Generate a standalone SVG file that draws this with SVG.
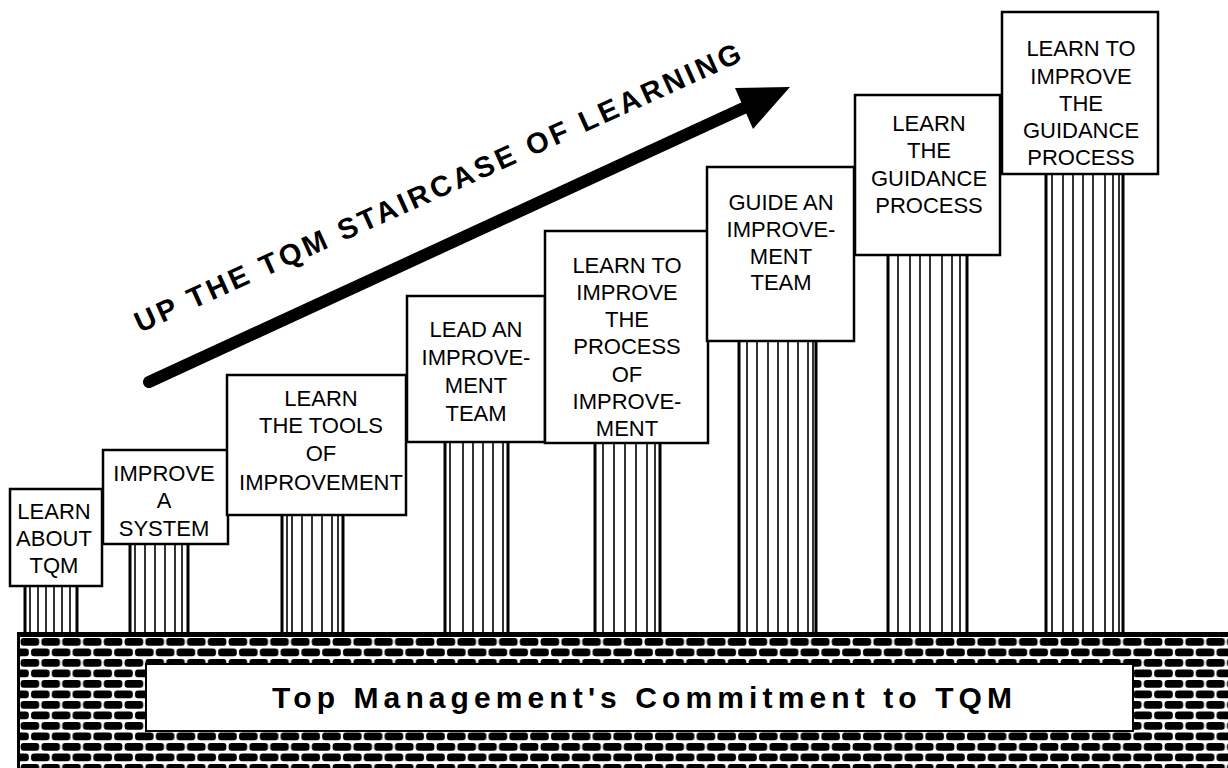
<svg xmlns="http://www.w3.org/2000/svg" width="1228" height="768" viewBox="0 0 1228 768">
  <defs>
    <style>
      .box { fill: #fff; stroke: #000; stroke-width: 2.5; }
      .lbl { font-family: "Liberation Sans", Arial, Helvetica, sans-serif; font-size: 22px; fill: #000; text-anchor: middle; }
      .col { fill: none; stroke: #000; stroke-width: 1.6; }
      .edge { fill: none; stroke: #000; stroke-width: 3; }
    </style>
    <!-- brickwork: black bricks on white mortar, alternate courses offset by half a brick -->
    <pattern id="bricks" patternUnits="userSpaceOnUse" x="20" y="638" width="20.8" height="21">
      <rect width="20.8" height="21" fill="#fff"/>
      <rect x="0.6" y="0" width="18.6" height="7.8" rx="3" fill="#000"/>
      <rect x="-9.8" y="10.5" width="18.6" height="7.8" rx="3" fill="#000"/>
      <rect x="11" y="10.5" width="18.6" height="7.8" rx="3" fill="#000"/>
    </pattern>
  </defs>

  <rect width="1228" height="768" fill="#fff"/>

  <!-- rising arrow and its caption -->
  <g id="arrow">
    <line x1="149" y1="382" x2="748" y2="106" stroke="#000" stroke-width="12" stroke-linecap="round"/>
    <polygon points="735,88 790,87 753,129" fill="#000"/>
    <text x="0" y="0" transform="translate(140,333) rotate(-24.3)" font-family="'Liberation Sans', Arial, Helvetica, sans-serif" font-size="29" font-weight="bold" textLength="662" lengthAdjust="spacing">UP THE TQM STAIRCASE OF LEARNING</text>
  </g>

  <!-- step 1 -->
  <g id="step1">
    <path class="col" d="M30 586V632M38 586V632M46 586V632M54 586V632M62 586V632M70 586V632"/>
    <path class="edge" d="M25 586V632M77 586V632"/>
    <rect class="box" x="10" y="489" width="92" height="97"/>
    <text class="lbl" x="54" y="519">LEARN</text>
    <text class="lbl" x="54" y="546">ABOUT</text>
    <text class="lbl" x="54" y="573">TQM</text>
  </g>

  <!-- step 2 -->
  <g id="step2">
    <path class="col" d="M135 544V632M145 544V632M155 544V632M165 544V632M175 544V632M182 544V632"/>
    <path class="edge" d="M130 544V632M188 544V632"/>
    <rect class="box" x="103" y="450" width="125" height="94"/>
    <text class="lbl" x="164" y="481">IMPROVE</text>
    <text class="lbl" x="164" y="508">A</text>
    <text class="lbl" x="164" y="536">SYSTEM</text>
  </g>

  <!-- step 3 -->
  <g id="step3">
    <path class="col" d="M287 515V632M292 515V632M302 515V632M312 515V632M322 515V632M332 515V632M338 515V632"/>
    <path class="edge" d="M282 515V632M343 515V632"/>
    <rect class="box" x="227" y="375" width="179" height="140"/>
    <text class="lbl" x="321" y="406">LEARN</text>
    <text class="lbl" x="321" y="433">THE TOOLS</text>
    <text class="lbl" x="321" y="461">OF</text>
    <text class="lbl" x="321" y="490">IMPROVEMENT</text>
  </g>

  <!-- step 4 -->
  <g id="step4">
    <path class="col" d="M450 442V632M463 442V632M473 442V632M483 442V632M493 442V632M503 442V632"/>
    <path class="edge" d="M445 442V632M508 442V632"/>
    <rect class="box" x="407" y="296" width="138" height="146"/>
    <text class="lbl" x="476" y="337">LEAD AN</text>
    <text class="lbl" x="476" y="365">IMPROVE-</text>
    <text class="lbl" x="476" y="393">MENT</text>
    <text class="lbl" x="476" y="421">TEAM</text>
  </g>

  <!-- step 5 -->
  <g id="step5">
    <path class="col" d="M603 443V632M614 443V632M625 443V632M636 443V632M647 443V632M655 443V632"/>
    <path class="edge" d="M595 443V632M660 443V632"/>
    <rect class="box" x="545" y="231" width="163" height="212"/>
    <text class="lbl" x="627" y="273">LEARN TO</text>
    <text class="lbl" x="627" y="300">IMPROVE</text>
    <text class="lbl" x="627" y="327">THE</text>
    <text class="lbl" x="627" y="354">PROCESS</text>
    <text class="lbl" x="627" y="382">OF</text>
    <text class="lbl" x="627" y="409">IMPROVE-</text>
    <text class="lbl" x="627" y="436">MENT</text>
  </g>

  <!-- step 6 -->
  <g id="step6">
    <path class="col" d="M747 341V632M757 341V632M768 341V632M778 341V632M788 341V632M798 341V632M808 341V632M813 341V632"/>
    <path class="edge" d="M739 341V632M816 341V632"/>
    <rect class="box" x="707" y="167" width="147" height="174"/>
    <text class="lbl" x="781" y="210">GUIDE AN</text>
    <text class="lbl" x="781" y="237">IMPROVE-</text>
    <text class="lbl" x="781" y="264">MENT</text>
    <text class="lbl" x="781" y="290">TEAM</text>
  </g>

  <!-- step 7 -->
  <g id="step7">
    <path class="col" d="M898 255V632M910 255V632M920 255V632M930 255V632M942 255V632M952 255V632M960 255V632"/>
    <path class="edge" d="M888 255V632M967 255V632"/>
    <rect class="box" x="855" y="95" width="145" height="160"/>
    <text class="lbl" x="929" y="131">LEARN</text>
    <text class="lbl" x="929" y="158">THE</text>
    <text class="lbl" x="929" y="186">GUIDANCE</text>
    <text class="lbl" x="929" y="213">PROCESS</text>
  </g>

  <!-- step 8 -->
  <g id="step8">
    <path class="col" d="M1052 174V632M1063 174V632M1073 174V632M1083 174V632M1093 174V632M1105 174V632M1113 174V632M1119 174V632"/>
    <path class="edge" d="M1046 174V632M1123 174V632"/>
    <rect class="box" x="1002" y="12" width="156" height="162"/>
    <text class="lbl" x="1081" y="56">LEARN TO</text>
    <text class="lbl" x="1081" y="84">IMPROVE</text>
    <text class="lbl" x="1081" y="111">THE</text>
    <text class="lbl" x="1081" y="138">GUIDANCE</text>
    <text class="lbl" x="1081" y="165">PROCESS</text>
  </g>

  <!-- foundation wall -->
  <g id="foundation">
    <rect x="17" y="632" width="1211" height="136" fill="#000"/>
    <rect x="20" y="637" width="1208" height="131" fill="url(#bricks)"/>
    <rect x="146" y="664" width="987" height="67" fill="#fff" stroke="#000" stroke-width="2"/>
    <text x="272" y="708" font-family="'Liberation Sans', Arial, Helvetica, sans-serif" font-size="30" font-weight="bold" textLength="740" lengthAdjust="spacing">Top Management's Commitment to TQM</text>
  </g>
</svg>
